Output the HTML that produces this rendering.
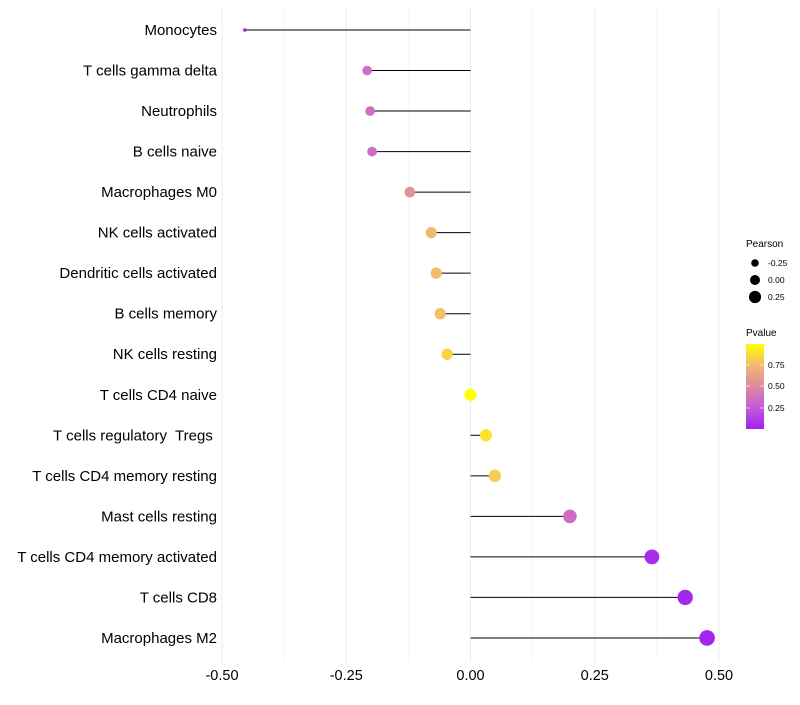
<!DOCTYPE html>
<html><head><meta charset="utf-8"><style>
body{margin:0;background:#fff;font-family:"Liberation Sans",sans-serif;}
text{white-space:pre;}
</style></head><body>
<svg id="chart" width="800" height="700" xmlns="http://www.w3.org/2000/svg">
<defs><linearGradient id="pg" x1="0" y1="1" x2="0" y2="0">
<stop offset="0" stop-color="#a020f0"/><stop offset="0.25" stop-color="#c45ad8"/><stop offset="0.5" stop-color="#dc8aa0"/><stop offset="0.75" stop-color="#f2b870"/><stop offset="1" stop-color="#ffff00"/>
</linearGradient></defs>
<g id="grid"></g><g id="marks"></g><g id="labels"></g>
<g font-size="8.5" fill="#000">
<text x="746" y="247" font-size="10">Pearson</text>
<circle cx="755" cy="263" r="3.8"/><text x="768" y="266">-0.25</text>
<circle cx="755" cy="280" r="5"/><text x="768" y="283">0.00</text>
<circle cx="755" cy="297" r="6.1"/><text x="768" y="300">0.25</text>
</g>
<g font-size="8.5" fill="#000">
<text x="746" y="336" font-size="10">Pvalue</text>
<rect x="746" y="344" width="18" height="85" fill="url(#pg)"/>
<line x1="746" x2="750" y1="365" y2="365" stroke="#fff" stroke-width="0.6"/><line x1="760" x2="764" y1="365" y2="365" stroke="#fff" stroke-width="0.6"/>
<line x1="746" x2="750" y1="386" y2="386" stroke="#fff" stroke-width="0.6"/><line x1="760" x2="764" y1="386" y2="386" stroke="#fff" stroke-width="0.6"/>
<line x1="746" x2="750" y1="408" y2="408" stroke="#fff" stroke-width="0.6"/><line x1="760" x2="764" y1="408" y2="408" stroke="#fff" stroke-width="0.6"/>
<text x="768" y="368">0.75</text><text x="768" y="389">0.50</text><text x="768" y="411">0.25</text>
</g>
</svg>
<script>
const categories=["Monocytes","T cells gamma delta","Neutrophils","B cells naive","Macrophages M0","NK cells activated","Dendritic cells activated","B cells memory","NK cells resting","T cells CD4 naive","T cells regulatory  Tregs ","T cells CD4 memory resting","Mast cells resting","T cells CD4 memory activated","T cells CD8","Macrophages M2"];
const pearson=[-0.454,-0.208,-0.202,-0.198,-0.122,-0.079,-0.069,-0.061,-0.047,0.0,0.031,0.049,0.2,0.365,0.432,0.476];
const pvalue=[0.01,0.35,0.35,0.35,0.55,0.75,0.76,0.78,0.85,1.0,0.9,0.82,0.35,0.06,0.03,0.02];
const xTicks=[-0.5,-0.25,0,0.25,0.5];
const xTickLabels=["-0.50","-0.25","0.00","0.25","0.50"];
const NS="http://www.w3.org/2000/svg";
const x=v=>470.5+v*497;
const y=i=>30+i*40.53;
const stops=[[0,[160,32,240]],[0.25,[196,90,216]],[0.5,[220,138,160]],[0.75,[242,184,112]],[1,[255,255,0]]];
function col(p){for(let k=1;k<stops.length;k++){if(p<=stops[k][0]){const a=stops[k-1],b=stops[k],t=(p-a[0])/(b[0]-a[0]);return "rgb("+a[1].map((c,j)=>Math.round(c+(b[1][j]-c)*t)).join(",")+")";}}return "rgb(255,255,0)";}
const mn=Math.min(...pearson),mx=Math.max(...pearson);
const rad=v=>Math.sqrt(3.24+(60.8-3.24)*Math.pow((v-mn)/(mx-mn),0.8));
function el(t,a,p){const e=document.createElementNS(NS,t);for(const k in a)e.setAttribute(k,a[k]);p.appendChild(e);return e;}
const grid=document.getElementById('grid'),marks=document.getElementById('marks'),labels=document.getElementById('labels');
for(let k=0;k<xTicks.length;k++){
 const g=el('line',{x1:x(xTicks[k]),x2:x(xTicks[k]),y1:7,y2:662,stroke:'#ebebeb','stroke-width':1},grid);
 
 
 if(k<xTicks.length-1){const m=(xTicks[k]+xTicks[k+1])/2;const g2=el('line',{x1:x(m),x2:x(m),y1:7,y2:662,stroke:'#f3f3f3','stroke-width':0.6},grid);
 
 }
 const t=el('text',{x:x(xTicks[k]),y:680,'text-anchor':'middle','font-size':14.5,fill:'#000'},labels);
 t.textContent=xTickLabels[k];
 
 
}
categories.forEach((c,i)=>{
 const t=el('text',{x:217,y:y(i)+5,'text-anchor':'end','font-size':15,fill:'#000'},labels);
 t.textContent=c;
 
 
 const s=el('line',{x1:x(0),x2:x(pearson[i]),y1:y(i),y2:y(i),stroke:'#000','stroke-width':1},marks);
 
 
 const d=el('circle',{cx:x(pearson[i]),cy:y(i),r:rad(pearson[i]),fill:col(pvalue[i])},marks);
 
 
});
</script>
</body></html>
